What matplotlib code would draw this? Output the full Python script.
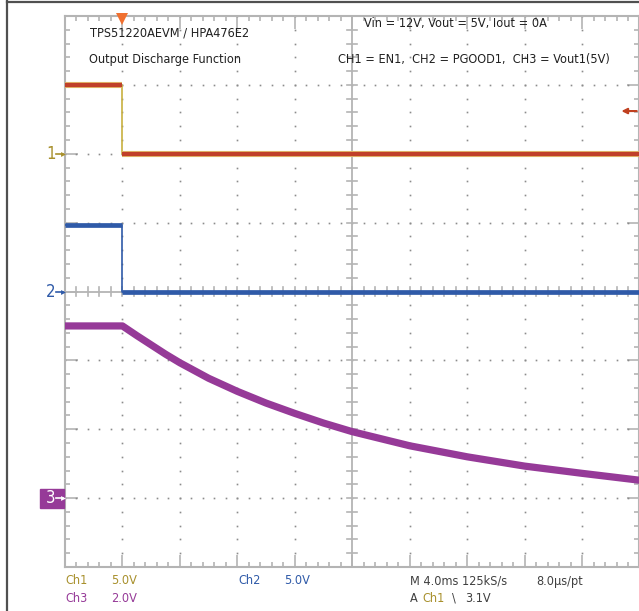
import matplotlib.pyplot as plt
import matplotlib.patheffects as pe
import matplotlib.font_manager as fm
from matplotlib.lines import Line2D
from matplotlib.patches import Rectangle
import numpy as np

W, H = 639, 611

# narrow sans for the scope readout, falls back to Liberation Sans
_files = fm.findSystemFonts()
FP = None
for key in ["LiberationSansNarrow-Regular", "DejaVuSansCondensed.ttf",
            "RobotoCondensed-Regular", "Roboto_Condensed-Regular", "Condensed-Regular"]:
    hits = sorted(f for f in _files if key in f)
    if hits:
        FP = hits[0]
        break
FSIZE = 9.1 if FP else 8.8


def font(size=None):
    if FP:
        return fm.FontProperties(fname=FP, size=size or FSIZE)
    return fm.FontProperties(family="Liberation Sans", size=size or FSIZE)


# scope settings
TIME_DIV = 4.0          # ms/div
T_START = -4.0          # ms at left edge (trigger one division in)
CH1_VDIV, CH1_POS = 5.0, 2.0
CH2_VDIV, CH2_POS = 5.0, 0.0
CH3_VDIV, CH3_POS = 2.0, -3.0
TRIG_LEVEL = 3.1        # V on Ch1

# traces (time in ms, volts)
ch1_t = [-4.0, 0.0, 0.0, 36.0]
ch1_v = [5.0, 5.0, 0.0, 0.0]
ch2_t = [-4.0, 0.0, 0.0, 36.0]
ch2_v = [4.8, 4.8, 0.0, 0.0]
ch3_t = [-4.0, 0.0, 1.0, 2.0, 3.0, 4.0, 6.0, 8.0, 10.0, 12.0, 14.0, 16.0,
         20.0, 24.0, 28.0, 32.0, 36.0]
ch3_v = [5.0, 5.0, 4.72, 4.45, 4.18, 3.93, 3.48, 3.10, 2.76, 2.46, 2.18, 1.93,
         1.52, 1.20, 0.93, 0.72, 0.52]

C1, C1_TRACE, C1_EDGE = "#a8902c", "#c0402a", "#e8d078"
C2 = "#2f5aa8"
C3 = "#963a98"
GRID = "#b4b4b4"
DOT = "#8c8c8c"


def px(x, y):
    return x / W, 1 - y / H


def div(v, vdiv, pos):
    return pos + np.asarray(v) / vdiv


fig = plt.figure(figsize=(W / 100, H / 100), dpi=100)
fig.patch.set_facecolor("white")
l, t = px(65, 16)
r, b = px(639.5, 567)
ax = fig.add_axes([l, b, r - l, t - b])
x0, x1 = T_START, T_START + 10 * TIME_DIV
ax.set_xlim(x0, x1)
ax.set_ylim(-4, 4)

# border + ticks
for s in ax.spines.values():
    s.set_color(GRID)
    s.set_linewidth(1.5)
ax.set_xticks(np.arange(x0, x1 + 0.01, TIME_DIV))
ax.set_xticks(np.arange(x0, x1 + 0.01, TIME_DIV / 5), minor=True)
ax.set_yticks(np.arange(-4, 4.01, 1))
ax.set_yticks(np.arange(-4, 4.01, 0.2), minor=True)
ax.tick_params(which="both", direction="in", top=True, right=True, color=GRID,
               labelbottom=False, labelleft=False, width=1.2)
ax.tick_params(which="major", length=9)
ax.tick_params(which="minor", length=3.5)

# dotted graticule
xc = x0 + 5 * TIME_DIV
xd = np.arange(x0, x1 + 0.01, TIME_DIV / 5)
for yy in [-3, -2, -1, 1, 2, 3]:
    ax.plot(xd, np.full_like(xd, yy), ls="none", marker="s", ms=1.2, color=DOT, mew=0)
yd = np.arange(-4, 4.01, 0.2)
for k in range(1, 10):
    if k == 5:
        continue
    xx = x0 + k * TIME_DIV
    ax.plot(np.full_like(yd, xx), yd, ls="none", marker="s", ms=1.2, color=DOT, mew=0)

# center cross with ticks
ax.axvline(xc, color=GRID, lw=1.3)
ax.axhline(0, color=GRID, lw=1.3)
hx = 5 / 57.4 * TIME_DIV
hy = 5 / 68.9
for xx in xd:
    ax.plot([xx, xx], [-hy, hy], color=GRID, lw=1.2)
for yy in yd:
    ax.plot([xc - hx, xc + hx], [yy, yy], color=GRID, lw=1.2)


def draw_step(tt, vv, vdiv, pos, color, edge, lw, halo=None):
    y = div(vv, vdiv, pos)
    ax.plot(tt, y, color=edge, lw=1.2, zorder=4)
    for i in range(len(tt) - 1):
        if vv[i] == vv[i + 1]:
            ln, = ax.plot(tt[i:i + 2], y[i:i + 2], color=color, lw=lw, zorder=5,
                          solid_capstyle="butt")
            if halo:
                ln.set_path_effects([pe.Stroke(linewidth=lw + 1.2, foreground=halo),
                                     pe.Normal()])


draw_step(ch1_t, ch1_v, CH1_VDIV, CH1_POS, C1_TRACE, "#c8b040", 3.2, halo=C1_EDGE)
draw_step(ch2_t, ch2_v, CH2_VDIV, CH2_POS, C2, C2, 3.4)
ax.plot(ch3_t, div(ch3_v, CH3_VDIV, CH3_POS), color=C3, lw=5.2, zorder=5,
        solid_joinstyle="round")

# trigger marker and level arrow
ax.plot([0.0], [4.0 - 3.5 / 68.9], marker="v", ms=9, color="#f07030", mew=0,
        clip_on=False, zorder=6)
ty = CH1_POS + TRIG_LEVEL / CH1_VDIV
ax.annotate("", xy=(x1 - 0.8 * TIME_DIV / 2.2, ty), xytext=(x1, ty),
            arrowprops=dict(arrowstyle="-|>", color="#c04020", lw=1.5,
                            mutation_scale=8), annotation_clip=False, zorder=6)


# channel ground markers
def marker(label, ypos, color, boxed=False):
    yf = ax.transData.transform((x0, ypos))
    yf = fig.transFigure.inverted().transform(yf)[1]
    if boxed:
        fig.patches.append(Rectangle((40 / W, yf - 9.5 / H), 24 / W, 19 / H,
                                     transform=fig.transFigure, color=color, zorder=5))
        tc = "white"
    else:
        tc = color
    fig.text(51 / W, yf, label, color=tc, fontproperties=font(12),
             ha="center", va="center", zorder=6)
    fig.add_artist(Line2D([56 / W, 63 / W], [yf, yf], color=tc, lw=1.2, zorder=6))
    fig.add_artist(Line2D([63 / W], [yf], marker=">", ms=3.5, color=tc, mew=0, zorder=6))


marker("1", CH1_POS, C1)
marker("2", CH2_POS, C2)
marker("3", CH3_POS, C3, boxed=True)

# annotations
tk = dict(fontproperties=font(), color="#202020", va="center", ha="left")
fig.text(*px(90, 33), "TPS51220AEVM / HPA476E2", **tk)
fig.text(*px(89, 60), "Output Discharge Function", **tk)
fig.text(*px(364, 24), "Vin = 12V, Vout = 5V, Iout = 0A", **tk)
fig.text(*px(338, 59), "CH1 = EN1,  CH2 = PGOOD1,  CH3 = Vout1(5V)", **tk)

bk = dict(fontproperties=font(), va="center", ha="left")
fig.text(*px(65, 581), "Ch1", color=C1, **bk)
fig.text(*px(111, 581), f"{CH1_VDIV:.1f}V", color=C1, **bk)
fig.text(*px(65, 598), "Ch3", color=C3, **bk)
fig.text(*px(111, 598), f"{CH3_VDIV:.1f}V", color=C3, **bk)
fig.text(*px(238, 581), "Ch2", color=C2, **bk)
fig.text(*px(284, 581), f"{CH2_VDIV:.1f}V", color=C2, **bk)
fig.text(*px(410, 581), f"M {TIME_DIV:.1f}ms 125kS/s", color="#404040", **bk)
fig.text(*px(536, 581), "8.0µs/pt", color="#404040", **bk)
fig.text(*px(410, 598), "A", color="#404040", **bk)
fig.text(*px(422, 598), "Ch1", color=C1, **bk)
fig.text(*px(452, 598), "\\", color="#404040", **bk)
fig.text(*px(465, 598), f"{TRIG_LEVEL:.1f}V", color="#404040", **bk)

# outer frame
fig.add_artist(Line2D([7 / W, 7 / W], [1 - 1 / H, 0], color="#505050", lw=1.6))
fig.add_artist(Line2D([7 / W, 1], [1 - 2 / H, 1 - 2 / H], color="#505050", lw=1.6))

fig.savefig("out.png", dpi=100)
